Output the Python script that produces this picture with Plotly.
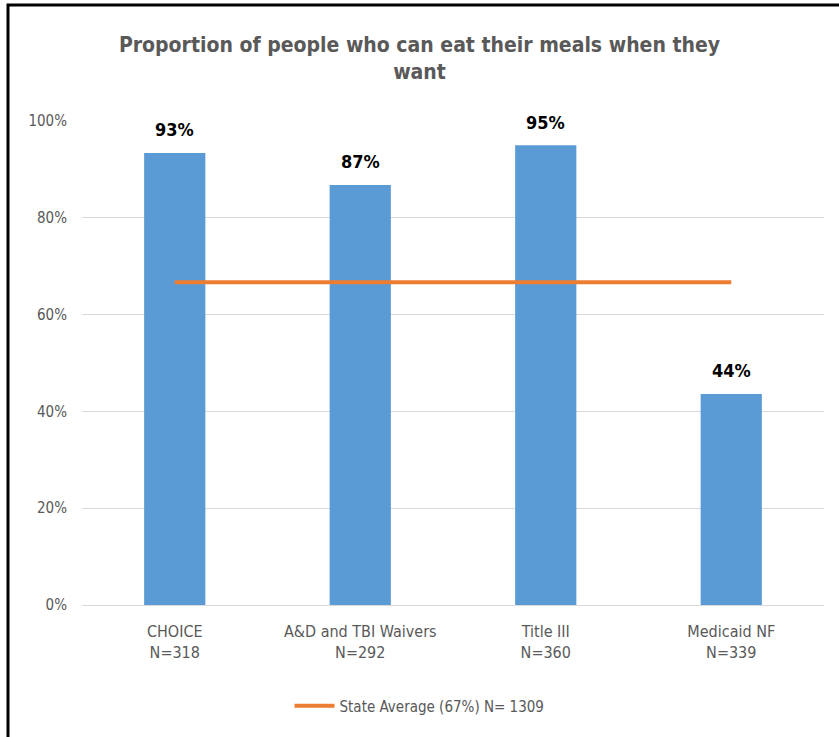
import plotly.graph_objects as go

categories = ["CHOICE", "A&D and TBI Waivers", "Title III", "Medicaid NF"]
sample_sizes = [318, 292, 360, 339]
values = [93.4, 86.8, 95.0, 43.6]
state_average = 66.7
state_label = "State Average (67%) N= 1309"
y_ticks = [0, 20, 40, 60, 80, 100]
y_tick_labels = ["0%", "20%", "40%", "60%", "80%", "100%"]

x_labels = [f"{c}<br>N={n}" for c, n in zip(categories, sample_sizes)]

FONT = "Liberation Sans Narrow, DejaVu Sans Condensed, Arial Narrow, sans-serif"
GRAY = "#595959"

fig = go.Figure()
fig.add_trace(go.Bar(
    x=x_labels, y=values,
    marker=dict(color="#5B9BD5", line=dict(width=0)),
    showlegend=False,
    hoverinfo="x+y",
))
fig.add_trace(go.Scatter(
    x=x_labels, y=[state_average] * len(x_labels),
    mode="lines",
    line=dict(color="#ED7D31", width=4),
    name=state_label,
    showlegend=True,
))

annotations = [
    dict(x=xl, y=v, xref="x", yref="y", text=f"<b>{round(v)}%</b>",
         showarrow=False, yanchor="middle", yshift=23, bgcolor="white",
         font=dict(family=FONT, size=18, color="#000000"))
    for xl, v in zip(x_labels, values)
]

fig.update_layout(
    width=839, height=737,
    paper_bgcolor="white", plot_bgcolor="white",
    margin=dict(l=82, r=15, t=121, b=132),
    bargap=0.67,
    title=dict(
        text="<b>Proportion of people who can eat their meals when they<br>want</b>",
        x=0.5, xanchor="center", xref="container",
        y=1 - 52 / 737, yanchor="top", yref="container",
        font=dict(family=FONT, size=21, color=GRAY),
    ),
    font=dict(family=FONT, color=GRAY),
    legend=dict(
        orientation="h", x=0.5, xanchor="center", xref="container",
        y=1 - 706 / 737, yanchor="middle", yref="container",
        font=dict(family=FONT, size=15, color=GRAY),
        itemwidth=40,
    ),
    annotations=annotations,
    shapes=[dict(
        type="rect", xref="paper", yref="paper",
        x0=(8 - 82) / 742, x1=(860 - 82) / 742,
        y0=(605 - 760) / 484, y1=(605 - 5) / 484,
        line=dict(color="black", width=3), fillcolor="rgba(0,0,0,0)",
        layer="above",
    )],
)
fig.update_xaxes(
    showgrid=False, showline=True, linecolor="#D9D9D9", linewidth=1,
    tickfont=dict(family=FONT, size=16, color=GRAY),
    ticks="", ticklabelstandoff=12, fixedrange=True,
)
fig.update_yaxes(
    range=[0, 100], tickvals=y_ticks, ticktext=y_tick_labels,
    showgrid=True, gridcolor="#D9D9D9", gridwidth=1,
    zeroline=False, showline=False, ticks="", ticklabelstandoff=14,
    tickfont=dict(family=FONT, size=15, color=GRAY),
)

fig.write_html(
    "out.html",
    config={"displayModeBar": False},
    post_script="document.body.style.margin='0';document.body.style.overflow='hidden';",
)
